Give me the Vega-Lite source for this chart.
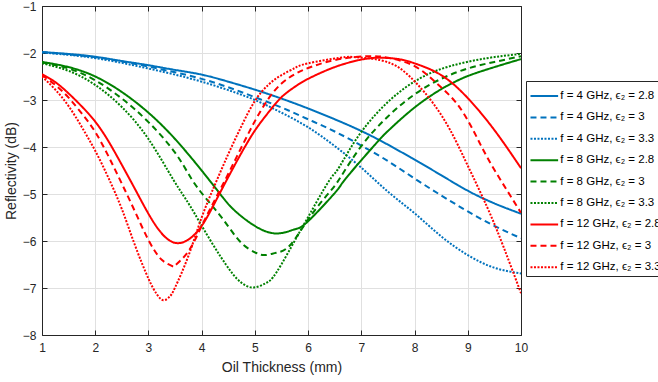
{
 "$schema": "https://vega.github.io/schema/vega-lite/v6.json",
 "width": 479, "height": 329,
 "autosize": "none",
 "padding": {"left": 42, "top": 6, "right": 137, "bottom": 47},
 "background": "white",
 "config": {
  "view": {"stroke": null},
  "font": "Liberation Sans",
  "axis": {"domainColor": "#262626", "tickColor": "#262626", "labelColor": "#262626", "titleColor": "#262626", "labelFontSize": 12, "titleFontSize": 14, "titleFontWeight": "normal", "gridColor": "#e0e0e0", "tickSize": -5, "domainWidth": 1, "tickWidth": 1, "labelFlush": false, "labelOverlap": false}
 },
 "datasets": {"d": [
  {"s":"4|2.8","x":1,"y":-1.98},{"s":"4|2.8","x":1.5,"y":-2.02},{"s":"4|2.8","x":2,"y":-2.08},{"s":"4|2.8","x":2.5,"y":-2.17},{"s":"4|2.8","x":3,"y":-2.26},{"s":"4|2.8","x":3.5,"y":-2.36},{"s":"4|2.8","x":4,"y":-2.46},{"s":"4|2.8","x":4.5,"y":-2.61},{"s":"4|2.8","x":5,"y":-2.78},{"s":"4|2.8","x":5.5,"y":-2.97},{"s":"4|2.8","x":6,"y":-3.18},{"s":"4|2.8","x":6.5,"y":-3.41},{"s":"4|2.8","x":7,"y":-3.66},{"s":"4|2.8","x":7.5,"y":-3.95},{"s":"4|2.8","x":8,"y":-4.27},{"s":"4|2.8","x":8.5,"y":-4.6},{"s":"4|2.8","x":9,"y":-4.93},{"s":"4|2.8","x":9.5,"y":-5.2},{"s":"4|2.8","x":10,"y":-5.42},
  {"s":"4|3","x":1,"y":-1.98},{"s":"4|3","x":1.5,"y":-2.03},{"s":"4|3","x":2,"y":-2.09},{"s":"4|3","x":2.5,"y":-2.18},{"s":"4|3","x":3,"y":-2.29},{"s":"4|3","x":3.5,"y":-2.41},{"s":"4|3","x":4,"y":-2.55},{"s":"4|3","x":4.5,"y":-2.73},{"s":"4|3","x":5,"y":-2.94},{"s":"4|3","x":5.5,"y":-3.16},{"s":"4|3","x":6,"y":-3.41},{"s":"4|3","x":6.5,"y":-3.67},{"s":"4|3","x":7,"y":-3.97},{"s":"4|3","x":7.5,"y":-4.3},{"s":"4|3","x":8,"y":-4.67},{"s":"4|3","x":8.5,"y":-5.03},{"s":"4|3","x":9,"y":-5.37},{"s":"4|3","x":9.5,"y":-5.68},{"s":"4|3","x":10,"y":-5.94},
  {"s":"4|3.3","x":1,"y":-1.99},{"s":"4|3.3","x":1.5,"y":-2.04},{"s":"4|3.3","x":2,"y":-2.11},{"s":"4|3.3","x":2.5,"y":-2.21},{"s":"4|3.3","x":3,"y":-2.33},{"s":"4|3.3","x":3.5,"y":-2.46},{"s":"4|3.3","x":4,"y":-2.61},{"s":"4|3.3","x":4.5,"y":-2.79},{"s":"4|3.3","x":5,"y":-3.0},{"s":"4|3.3","x":5.5,"y":-3.27},{"s":"4|3.3","x":6,"y":-3.58},{"s":"4|3.3","x":6.5,"y":-3.98},{"s":"4|3.3","x":7,"y":-4.44},{"s":"4|3.3","x":7.5,"y":-4.95},{"s":"4|3.3","x":8,"y":-5.41},{"s":"4|3.3","x":8.5,"y":-5.9},{"s":"4|3.3","x":9,"y":-6.3},{"s":"4|3.3","x":9.5,"y":-6.57},{"s":"4|3.3","x":10,"y":-6.69},
  {"s":"8|2.8","x":1,"y":-2.19},{"s":"8|2.8","x":1.5,"y":-2.3},{"s":"8|2.8","x":2,"y":-2.5},{"s":"8|2.8","x":2.5,"y":-2.83},{"s":"8|2.8","x":3,"y":-3.27},{"s":"8|2.8","x":3.5,"y":-3.83},{"s":"8|2.8","x":4,"y":-4.5},{"s":"8|2.8","x":4.34,"y":-4.99},{"s":"8|2.8","x":4.6,"y":-5.33},{"s":"8|2.8","x":5,"y":-5.68},{"s":"8|2.8","x":5.41,"y":-5.84},{"s":"8|2.8","x":5.75,"y":-5.75},{"s":"8|2.8","x":6,"y":-5.58},{"s":"8|2.8","x":6.5,"y":-4.98},{"s":"8|2.8","x":6.66,"y":-4.74},{"s":"8|2.8","x":7,"y":-4.28},{"s":"8|2.8","x":7.32,"y":-3.87},{"s":"8|2.8","x":7.5,"y":-3.66},{"s":"8|2.8","x":8,"y":-3.16},{"s":"8|2.8","x":8.5,"y":-2.77},{"s":"8|2.8","x":8.73,"y":-2.63},{"s":"8|2.8","x":9,"y":-2.49},{"s":"8|2.8","x":9.5,"y":-2.3},{"s":"8|2.8","x":10,"y":-2.13},
  {"s":"8|3","x":1,"y":-2.2},{"s":"8|3","x":1.5,"y":-2.33},{"s":"8|3","x":2,"y":-2.58},{"s":"8|3","x":2.5,"y":-2.97},{"s":"8|3","x":3,"y":-3.47},{"s":"8|3","x":3.5,"y":-4.12},{"s":"8|3","x":3.81,"y":-4.68},{"s":"8|3","x":4.1,"y":-5.12},{"s":"8|3","x":4.41,"y":-5.55},{"s":"8|3","x":4.72,"y":-6.01},{"s":"8|3","x":5,"y":-6.24},{"s":"8|3","x":5.19,"y":-6.3},{"s":"8|3","x":5.4,"y":-6.25},{"s":"8|3","x":5.66,"y":-6.09},{"s":"8|3","x":6.04,"y":-5.48},{"s":"8|3","x":6.41,"y":-4.95},{"s":"8|3","x":6.6,"y":-4.66},{"s":"8|3","x":7,"y":-3.98},{"s":"8|3","x":7.5,"y":-3.35},{"s":"8|3","x":8,"y":-2.88},{"s":"8|3","x":8.5,"y":-2.55},{"s":"8|3","x":9,"y":-2.33},{"s":"8|3","x":9.5,"y":-2.19},{"s":"8|3","x":10,"y":-2.07},
  {"s":"8|3.3","x":1,"y":-2.22},{"s":"8|3.3","x":1.5,"y":-2.38},{"s":"8|3.3","x":2,"y":-2.68},{"s":"8|3.3","x":2.5,"y":-3.15},{"s":"8|3.3","x":3,"y":-3.83},{"s":"8|3.3","x":3.47,"y":-4.7},{"s":"8|3.3","x":3.78,"y":-5.25},{"s":"8|3.3","x":4.16,"y":-5.98},{"s":"8|3.3","x":4.53,"y":-6.62},{"s":"8|3.3","x":4.75,"y":-6.89},{"s":"8|3.3","x":4.97,"y":-6.99},{"s":"8|3.3","x":5.2,"y":-6.9},{"s":"8|3.3","x":5.41,"y":-6.66},{"s":"8|3.3","x":5.79,"y":-5.91},{"s":"8|3.3","x":6.04,"y":-5.41},{"s":"8|3.3","x":6.29,"y":-4.91},{"s":"8|3.3","x":6.47,"y":-4.6},{"s":"8|3.3","x":6.6,"y":-4.4},{"s":"8|3.3","x":6.98,"y":-3.71},{"s":"8|3.3","x":7.54,"y":-3.0},{"s":"8|3.3","x":8.1,"y":-2.54},{"s":"8|3.3","x":8.67,"y":-2.28},{"s":"8|3.3","x":9.36,"y":-2.11},{"s":"8|3.3","x":10,"y":-2.02},
  {"s":"12|2.8","x":1,"y":-2.45},{"s":"12|2.8","x":1.25,"y":-2.62},{"s":"12|2.8","x":1.5,"y":-2.86},{"s":"12|2.8","x":1.75,"y":-3.14},{"s":"12|2.8","x":2,"y":-3.46},{"s":"12|2.8","x":2.25,"y":-3.88},{"s":"12|2.8","x":2.5,"y":-4.38},{"s":"12|2.8","x":2.75,"y":-4.9},{"s":"12|2.8","x":3,"y":-5.42},{"s":"12|2.8","x":3.25,"y":-5.84},{"s":"12|2.8","x":3.5,"y":-6.04},{"s":"12|2.8","x":3.75,"y":-5.97},{"s":"12|2.8","x":4,"y":-5.68},{"s":"12|2.8","x":4.25,"y":-5.18},{"s":"12|2.8","x":4.5,"y":-4.64},{"s":"12|2.8","x":4.75,"y":-4.12},{"s":"12|2.8","x":5,"y":-3.65},{"s":"12|2.8","x":5.25,"y":-3.27},{"s":"12|2.8","x":5.5,"y":-2.94},{"s":"12|2.8","x":5.75,"y":-2.72},{"s":"12|2.8","x":6,"y":-2.55},{"s":"12|2.8","x":6.5,"y":-2.3},{"s":"12|2.8","x":7,"y":-2.14},{"s":"12|2.8","x":7.35,"y":-2.1},{"s":"12|2.8","x":7.7,"y":-2.13},{"s":"12|2.8","x":8,"y":-2.22},{"s":"12|2.8","x":8.5,"y":-2.47},{"s":"12|2.8","x":9,"y":-2.96},{"s":"12|2.8","x":9.5,"y":-3.64},{"s":"12|2.8","x":10,"y":-4.45},
  {"s":"12|3","x":1,"y":-2.47},{"s":"12|3","x":1.25,"y":-2.68},{"s":"12|3","x":1.5,"y":-2.95},{"s":"12|3","x":1.75,"y":-3.29},{"s":"12|3","x":2,"y":-3.68},{"s":"12|3","x":2.25,"y":-4.2},{"s":"12|3","x":2.5,"y":-4.78},{"s":"12|3","x":2.75,"y":-5.38},{"s":"12|3","x":3,"y":-5.98},{"s":"12|3","x":3.25,"y":-6.4},{"s":"12|3","x":3.44,"y":-6.53},{"s":"12|3","x":3.5,"y":-6.52},{"s":"12|3","x":3.75,"y":-6.22},{"s":"12|3","x":4,"y":-5.68},{"s":"12|3","x":4.25,"y":-5.12},{"s":"12|3","x":4.5,"y":-4.57},{"s":"12|3","x":4.75,"y":-4.0},{"s":"12|3","x":5,"y":-3.45},{"s":"12|3","x":5.25,"y":-2.98},{"s":"12|3","x":5.5,"y":-2.65},{"s":"12|3","x":5.75,"y":-2.45},{"s":"12|3","x":6,"y":-2.32},{"s":"12|3","x":6.5,"y":-2.15},{"s":"12|3","x":7.1,"y":-2.07},{"s":"12|3","x":7.5,"y":-2.1},{"s":"12|3","x":8,"y":-2.28},{"s":"12|3","x":8.42,"y":-2.65},{"s":"12|3","x":8.79,"y":-3.07},{"s":"12|3","x":9.1,"y":-3.64},{"s":"12|3","x":9.36,"y":-4.21},{"s":"12|3","x":9.67,"y":-4.8},{"s":"12|3","x":10,"y":-5.4},
  {"s":"12|3.3","x":1,"y":-2.5},{"s":"12|3.3","x":1.25,"y":-2.78},{"s":"12|3.3","x":1.5,"y":-3.13},{"s":"12|3.3","x":1.75,"y":-3.58},{"s":"12|3.3","x":2,"y":-4.08},{"s":"12|3.3","x":2.25,"y":-4.66},{"s":"12|3.3","x":2.5,"y":-5.32},{"s":"12|3.3","x":2.75,"y":-6.1},{"s":"12|3.3","x":3,"y":-6.8},{"s":"12|3.3","x":3.15,"y":-7.12},{"s":"12|3.3","x":3.28,"y":-7.26},{"s":"12|3.3","x":3.4,"y":-7.18},{"s":"12|3.3","x":3.5,"y":-6.99},{"s":"12|3.3","x":3.75,"y":-6.32},{"s":"12|3.3","x":4,"y":-5.5},{"s":"12|3.3","x":4.25,"y":-4.8},{"s":"12|3.3","x":4.5,"y":-4.15},{"s":"12|3.3","x":4.75,"y":-3.55},{"s":"12|3.3","x":5,"y":-3.02},{"s":"12|3.3","x":5.25,"y":-2.68},{"s":"12|3.3","x":5.5,"y":-2.47},{"s":"12|3.3","x":5.75,"y":-2.32},{"s":"12|3.3","x":6,"y":-2.22},{"s":"12|3.3","x":6.6,"y":-2.1},{"s":"12|3.3","x":6.9,"y":-2.09},{"s":"12|3.3","x":7.35,"y":-2.15},{"s":"12|3.3","x":7.73,"y":-2.33},{"s":"12|3.3","x":8.04,"y":-2.65},{"s":"12|3.3","x":8.35,"y":-3.07},{"s":"12|3.3","x":8.67,"y":-3.64},{"s":"12|3.3","x":8.98,"y":-4.35},{"s":"12|3.3","x":9.36,"y":-5.27},{"s":"12|3.3","x":9.67,"y":-6.12},{"s":"12|3.3","x":10,"y":-7.11}
 ]},
 "data": {"name": "d"},
 "layer": [
  {
   "mark": {"type": "line", "strokeWidth": 2, "interpolate": "natural", "clip": true},
   "encoding": {
    "x": {"field": "x", "type": "quantitative", "scale": {"domain": [1, 10], "nice": false, "zero": false},
          "axis": {"orient": "bottom", "values": [1,2,3,4,5,6,7,8,9,10], "title": "Oil Thickness (mm)", "labelPadding": 12, "titlePadding": 7, "grid": true}},
    "y": {"field": "y", "type": "quantitative", "scale": {"domain": [-8, -1], "nice": false, "zero": false},
          "axis": {"orient": "left", "values": [-8,-7,-6,-5,-4,-3,-2,-1], "title": "Reflectivity (dB)", "labelPadding": 11, "titlePadding": 4, "grid": true}},
    "color": {"field": "s", "type": "nominal",
      "scale": {"domain": ["4|2.8","4|3","4|3.3","8|2.8","8|3","8|3.3","12|2.8","12|3","12|3.3"],
                "range": ["#0072BD","#0072BD","#0072BD","#008000","#008000","#008000","#FF0000","#FF0000","#FF0000"]},
      "legend": {"orient": "none", "legendX": 484, "legendY": 75, "title": null, "symbolType": "M-1.3,0H1.3", "symbolSize": 452, "symbolStrokeWidth": 2, "symbolOffset": 3.3, "labelFontSize": 11.5, "labelColor": "#000000", "rowPadding": 3.4, "padding": 3, "strokeColor": "#262626", "fillColor": "white", "labelOffset": 4, "labelLimit": 0,
                 "labelExpr": "'f = ' + split(datum.label, '|')[0] + ' GHz, ϵ₂ = ' + split(datum.label, '|')[1]"}},
    "strokeDash": {"field": "s", "type": "nominal",
      "scale": {"domain": ["4|2.8","4|3","4|3.3","8|2.8","8|3","8|3.3","12|2.8","12|3","12|3.3"],
                "range": [[1,0],[6,4],[2,1.5],[1,0],[6,4],[2,1.5],[1,0],[6,4],[2,1.5]]},
      "legend": {"orient": "none", "legendX": 484, "legendY": 75, "title": null, "symbolType": "M-1.3,0H1.3", "symbolSize": 452, "symbolStrokeWidth": 2, "symbolOffset": 3.3, "labelFontSize": 11.5, "labelColor": "#000000", "rowPadding": 3.4, "padding": 3, "strokeColor": "#262626", "fillColor": "white", "labelOffset": 4, "labelLimit": 0,
                 "labelExpr": "'f = ' + split(datum.label, '|')[0] + ' GHz, ϵ₂ = ' + split(datum.label, '|')[1]"}}
   }
  },
  {
   "mark": {"type": "point", "opacity": 0},
   "encoding": {
    "x": {"field": "x", "type": "quantitative", "axis": {"orient": "top", "values": [1,2,3,4,5,6,7,8,9,10], "labels": false, "grid": false, "title": null}},
    "y": {"field": "y", "type": "quantitative", "axis": {"orient": "right", "values": [-8,-7,-6,-5,-4,-3,-2,-1], "labels": false, "grid": false, "title": null}}
   }
  }
 ],
 "resolve": {"axis": {"x": "independent", "y": "independent"}}
}
